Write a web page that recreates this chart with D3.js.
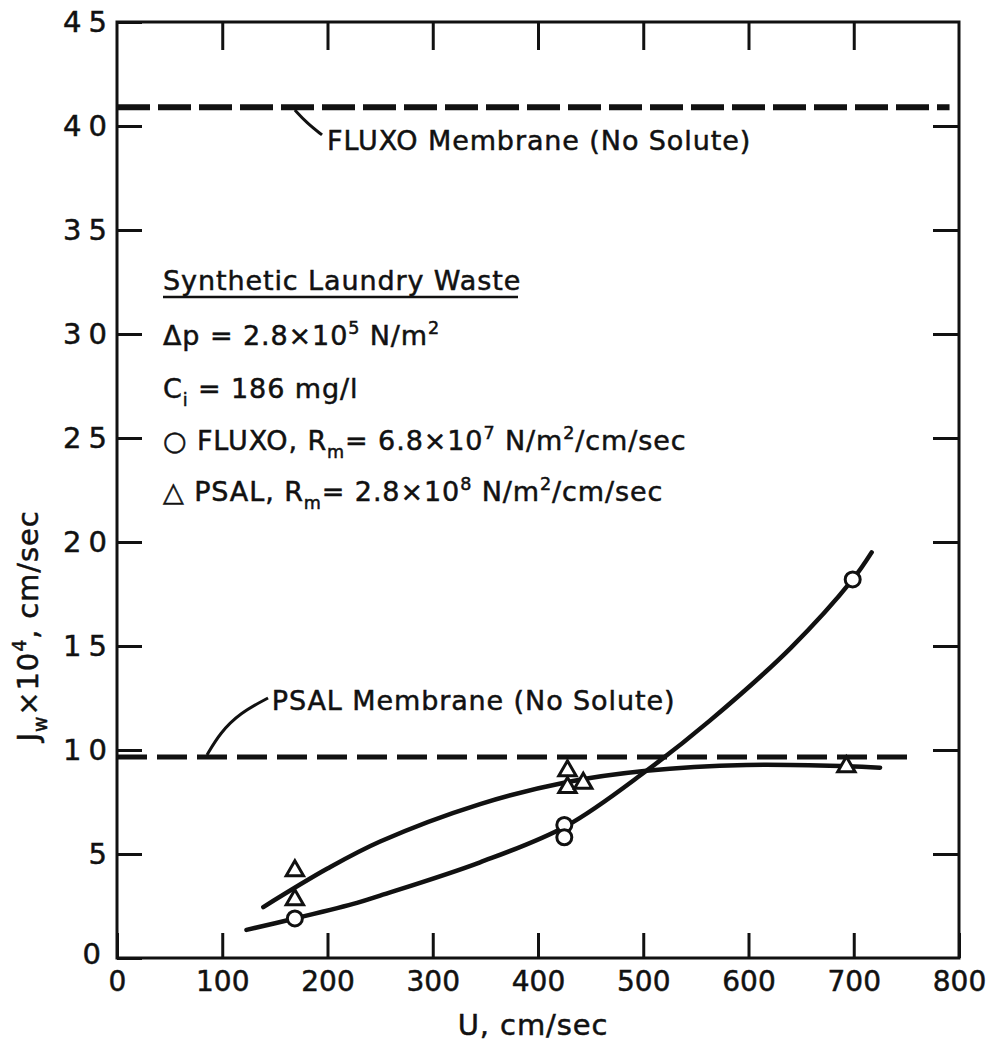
<!DOCTYPE html>
<html><head><meta charset="utf-8">
<script src="https://cdn.jsdelivr.net/npm/d3@7"></script>
<style>
body{margin:0;background:#fff}
svg text{font-family:"DejaVu Sans",sans-serif;fill:#111;stroke:#111;stroke-width:0.5px}
</style>
</head><body>
<svg id="chart" width="995" height="1043"></svg>
<script>
// Tick values
const xTicks = [0, 100, 200, 300, 400, 500, 600, 700, 800];
const yTicks = [0, 5, 10, 15, 20, 25, 30, 35, 40, 45];

// Measured flux, U in cm/sec, Jw in 1e-4 cm/sec
const fluxoPoints = [[169, 1.9], [425, 6.4], [425, 5.8], [699, 18.2]];
const psalPoints  = [[169, 4.2], [169, 2.8], [428, 9.0], [428, 8.2], [443, 8.4], [693, 9.2]];

// Smooth fitted curves through the data
const fluxoCurve = [[123, 1.35], [169, 1.9], [228, 2.65], [250, 3.0], [345, 4.6], [427, 6.35],
                    [503, 9.0], [563, 11.4], [640, 14.9], [699, 18.2], [717, 19.5]];
const psalCurve  = [[139, 2.45], [200, 4.3], [250, 5.6], [345, 7.4], [427, 8.45], [503, 9.0],
                    [598, 9.28], [693, 9.22], [725, 9.15]];

// Pure-water flux of each membrane (no solute)
const fluxoNoSolute = [[0, 40.9], [791, 40.9]];
const psalNoSolute  = [[0, 9.66], [753, 9.66]];

// Leader lines from the annotations to the dashed lines
const fluxoLeader = [[169, 40.77], [180.5, 40.14], [194.8, 39.57]];
const psalLeader  = [[85.5, 9.76], [97.9, 10.82], [116.9, 11.78], [143.5, 12.5]];

const svg = d3.select("#chart");
const x = d3.scaleLinear().domain([0, 800]).range([117, 959]);
const y = d3.scaleLinear().domain([0, 45]).range([958, 22]);
const ink = "#111";
const LS = "0.9px";

// Frame
svg.append("rect").attr("x", x(0)).attr("y", y(45))
  .attr("width", x(800) - x(0)).attr("height", y(0) - y(45))
  .attr("fill", "none").attr("stroke", ink).attr("stroke-width", 3);

// Axes with inward ticks
const styleAxis = g => {
  g.select(".domain").remove();
  g.selectAll(".tick line").attr("stroke", ink).attr("stroke-width", 3);
};
svg.append("g").attr("transform", `translate(0,${y(0)})`)
  .call(d3.axisBottom(x).tickValues(xTicks).tickSize(-25).tickPadding(13).tickFormat(d3.format("d")))
  .call(styleAxis)
  .call(g => g.selectAll("text").attr("font-size", 28).style("font-family", '"DejaVu Sans"').attr("fill", ink));
svg.append("g").attr("transform", `translate(0,${y(45)})`)
  .call(d3.axisTop(x).tickValues(xTicks.slice(1, -1)).tickSize(-28).tickFormat(""))
  .call(styleAxis);
svg.append("g").attr("transform", `translate(${x(0)},0)`)
  .call(d3.axisLeft(y).tickValues(yTicks).tickSize(-25).tickPadding(3).tickFormat(d3.format("d")))
  .call(styleAxis)
  .call(g => g.selectAll("text").attr("font-size", 29).style("font-family", '"DejaVu Sans"')
    .attr("letter-spacing", "7px").attr("fill", ink))
  .call(g => g.selectAll(".tick").filter(d => d === 0).select("text").attr("dx", "-6").attr("dy", "0.2em"));
svg.append("g").attr("transform", `translate(${x(800)},0)`)
  .call(d3.axisRight(y).tickValues(yTicks.slice(1, -1)).tickSize(-26).tickFormat(""))
  .call(styleAxis);

const line = d3.line().x(d => x(d[0])).y(d => y(d[1]));

// Dashed no-solute lines
svg.append("path").datum(fluxoNoSolute).attr("d", line)
  .attr("fill", "none").attr("stroke", ink).attr("stroke-width", 6)
  .attr("stroke-dasharray", "33 8");
svg.append("path").datum(psalNoSolute).attr("d", line)
  .attr("fill", "none").attr("stroke", ink).attr("stroke-width", 5)
  .attr("stroke-dasharray", "30 10");

// Fitted curves
const smooth = d3.line().x(d => x(d[0])).y(d => y(d[1])).curve(d3.curveCatmullRom.alpha(0.5));
[fluxoCurve, psalCurve].forEach(c => {
  svg.append("path").datum(c).attr("d", smooth)
    .attr("fill", "none").attr("stroke", ink).attr("stroke-width", 4.5).attr("stroke-linecap", "round");
});

// Leaders
const leaderLine = d3.line().x(d => x(d[0])).y(d => y(d[1])).curve(d3.curveBasis);
[fluxoLeader, psalLeader].forEach(c => {
  svg.append("path").datum(c).attr("d", leaderLine)
    .attr("fill", "none").attr("stroke", ink).attr("stroke-width", 3);
});

// Markers
svg.append("g").selectAll("circle").data(fluxoPoints).join("circle")
  .attr("cx", d => x(d[0])).attr("cy", d => y(d[1])).attr("r", 7.5)
  .attr("fill", "#fff").attr("stroke", ink).attr("stroke-width", 3);
const tri = d3.symbol().type(d3.symbolTriangle).size(130);
svg.append("g").selectAll("path").data(psalPoints).join("path")
  .attr("transform", d => `translate(${x(d[0])},${y(d[1])})`).attr("d", tri)
  .attr("fill", "#fff").attr("stroke", ink).attr("stroke-width", 3);

// Rich text helper: segments with optional sub/superscripts
function rich(parent, px, py, segs, size) {
  const t = parent.append("text").attr("x", px).attr("y", py).attr("font-size", size)
    .attr("letter-spacing", LS);
  let shift = 0;
  segs.forEach(s => {
    const target = s.sup ? -0.42 * size : s.sub ? 0.3 * size : 0;
    const sp = t.append("tspan").text(s.t).attr("dy", target - shift);
    if (s.sup || s.sub) sp.attr("font-size", size * 0.65);
    shift = target;
  });
  return t;
}

// Annotations
rich(svg, x(199.5), y(38.85), [{t: "FLUXO  Membrane  (No Solute)"}], 27);
rich(svg, x(147), y(11.92), [{t: "PSAL  Membrane  (No Solute)"}], 27);

// Condition block
const blk = svg.append("g");
rich(blk, 163, 290, [{t: "Synthetic Laundry Waste"}], 27);
blk.append("line").attr("x1", 163).attr("x2", 518).attr("y1", 297).attr("y2", 297)
  .attr("stroke", ink).attr("stroke-width", 2.5);
rich(blk, 163, 345, [{t: "Δp = 2.8×10"}, {t: "5", sup: true}, {t: " N/m"}, {t: "2", sup: true}], 27);
rich(blk, 163, 398, [{t: "C"}, {t: "i", sub: true}, {t: " = 186  mg/l"}], 27);
rich(blk, 163, 450, [{t: "○ FLUXO, R"}, {t: "m", sub: true}, {t: "= 6.8×10"}, {t: "7", sup: true},
                     {t: " N/m"}, {t: "2", sup: true}, {t: "/cm/sec"}], 27);
rich(blk, 163, 501, [{t: "△ PSAL, R"}, {t: "m", sub: true}, {t: "= 2.8×10"}, {t: "8", sup: true},
                     {t: " N/m"}, {t: "2", sup: true}, {t: "/cm/sec"}], 27);

// Axis titles
rich(svg, 533, 1035, [{t: "U, cm/sec"}], 29).attr("text-anchor", "middle");
rich(svg, 0, 0, [{t: "J"}, {t: "w", sub: true}, {t: "×10"}, {t: "4", sup: true}, {t: ", cm/sec"}], 29)
  .attr("text-anchor", "middle").attr("transform", "translate(38,626) rotate(-90)");
</script>
</body></html>
